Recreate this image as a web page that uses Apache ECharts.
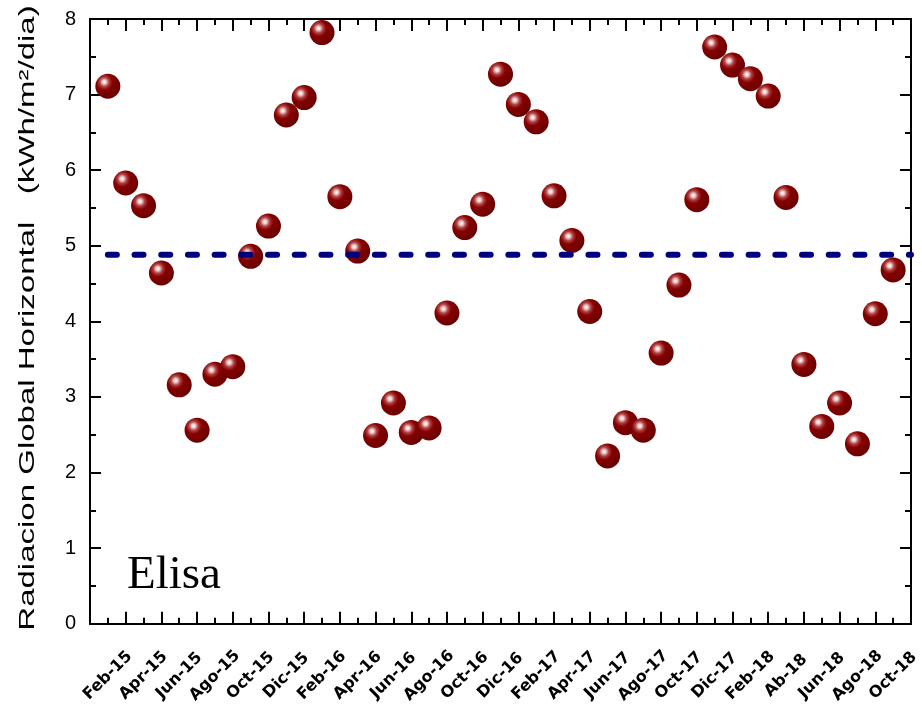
<!DOCTYPE html>
<html><head><meta charset="utf-8">
<script src="https://cdn.jsdelivr.net/npm/echarts@6/dist/echarts.min.js"></script>
<style>html,body{margin:0;padding:0;background:#fff}#c{width:922px;height:706px}</style>
</head><body><div id="c"></div>
<script>
// ---- data ----
const months = ['Feb-15','Mar-15','Apr-15','May-15','Jun-15','Jul-15','Ago-15','Sep-15','Oct-15','Nov-15','Dic-15',
  'Ene-16','Feb-16','Mar-16','Apr-16','May-16','Jun-16','Jul-16','Ago-16','Sep-16','Oct-16','Nov-16','Dic-16',
  'Ene-17','Feb-17','Mar-17','Apr-17','May-17','Jun-17','Jul-17','Ago-17','Sep-17','Oct-17','Nov-17','Dic-17',
  'Ene-18','Feb-18','Mar-18','Ab-18','May-18','Jun-18','Jul-18','Ago-18','Sep-18','Oct-18'];
const radiation = [7.11,5.83,5.53,4.64,3.16,2.56,3.30,3.40,4.86,5.26,6.73,
  6.96,7.82,5.65,4.93,2.49,2.92,2.53,2.59,4.11,5.24,5.55,7.27,
  6.87,6.64,5.66,5.07,4.13,2.22,2.66,2.56,3.58,4.48,5.61,7.63,
  7.39,7.21,6.98,5.64,3.43,2.61,2.92,2.38,4.10,4.68];
const meanLevel = 4.88;
const yMin = 0, yMax = 8, yStep = 1;
const yTitle = 'Radiacion Global Horizontal   (kWh/m\u00B2/dia)';
const stationName = 'Elisa';

// padded category axis (one empty slot each side)
const axisCats = [''].concat(months, ['']);
const n = months.length;
const isMonth = i => i >= 1 && i <= n;
const bigTick = i => isMonth(i) && (i - 1) % 2 === 1;
const smallTick = i => isMonth(i) && (i - 1) % 2 === 0;

const black = {color:'#000', width:2};
function xAx(pos, tickFn, len, labels) {
  return {
    type:'category', data: axisCats, position: pos, boundaryGap:false,
    axisLine:{show:true, onZero:false, lineStyle:black},
    axisTick:{show:true, inside:true, length:len, interval: tickFn, lineStyle:black},
    axisLabel: labels ? {
      show:true, interval: (i) => isMonth(i) && (i - 1) % 2 === 0,
      rotate:45, align:'center', verticalAlign:'middle', margin:52,
      fontFamily:'DejaVu Sans', fontWeight:'bold', fontSize:16, color:'#000'
    } : {show:false},
    splitLine:{show:false}
  };
}
function yAx(pos, labels) {
  return {
    type:'value', min:yMin, max:yMax, interval:yStep, position:pos,
    axisLine:{show:true, onZero:false, lineStyle:black},
    axisTick:{show:true, inside:true, length:11, lineStyle:black},
    minorTick:{show:true, splitNumber:2, length:6, lineStyle:black},
    axisLabel: labels ? {show:true, margin:14, fontFamily:'Liberation Sans', fontSize:20, color:'#000'} : {show:false},
    splitLine:{show:false}
  };
}

const ball = {
  type:'radial', x:0.36, y:0.33, r:0.72,
  colorStops:[
    {offset:0, color:'#ffffff'},
    {offset:0.1, color:'#f0d0d0'},
    {offset:0.26, color:'#b04040'},
    {offset:0.45, color:'#850000'},
    {offset:1, color:'#680000'}
  ]
};

const chart = echarts.init(document.getElementById('c'), null, {renderer:'canvas'});
chart.setOption({
  backgroundColor:'#fff',
  animation:false,
  grid:{left:90, right:6, top:19, bottom:80, containLabel:false},
  xAxis:[
    xAx('bottom', bigTick, 12, true),
    xAx('bottom', smallTick, 6, false),
    xAx('top', bigTick, 12, false),
    xAx('top', smallTick, 6, false)
  ],
  yAxis:[ yAx('left', true), yAx('right', false) ],
  graphic:[
    {type:'text', x:28, y:318, rotation:Math.PI/2, scaleX:1.5, scaleY:1,
     style:{text:yTitle, font:'22px "Liberation Sans"', fill:'#000',
            textAlign:'center', textVerticalAlign:'middle', align:'center', verticalAlign:'middle'}},
    {type:'text', left:127, top:552,
     style:{text:stationName, font:'47px "Liberation Serif"', fill:'#000'}}
  ],
  series:[
    {type:'scatter', xAxisIndex:0, yAxisIndex:0, symbol:'circle', symbolSize:25,
     data: radiation.map((v,i) => [i + 1, v]),
     itemStyle:{color: ball, opacity:1}, z:2},
    {type:'line', xAxisIndex:0, yAxisIndex:0, symbol:'none', z:3,
     data: [[1, meanLevel], [n + 1, meanLevel]],
     lineStyle:{color:'#00007f', width:6, type:[9, 17.7], cap:'round'}}
  ]
});
</script></body></html>
